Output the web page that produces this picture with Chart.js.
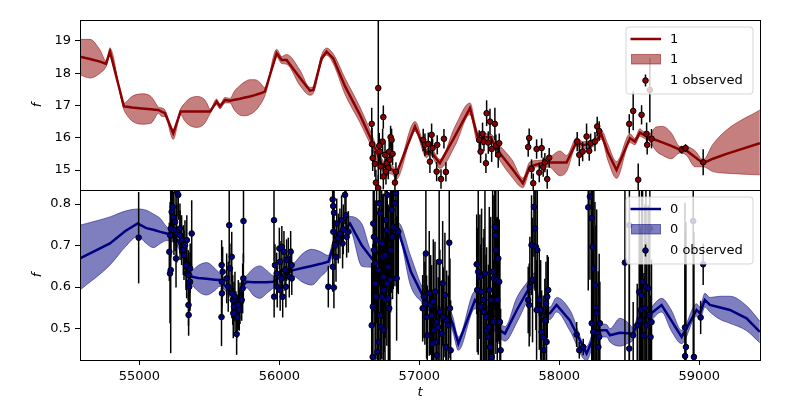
<!DOCTYPE html>
<html><head><meta charset="utf-8">
<script src="https://cdn.jsdelivr.net/npm/chart.js@4.4.1/dist/chart.umd.min.js"></script>
<style>
html,body{margin:0;padding:0;background:#fff;}
#wrap{position:relative;width:800px;height:400px;background:#fff;}
canvas{position:absolute;left:0;top:0;}
</style></head><body>
<div id="wrap"><canvas id="c0" width="800" height="400"></canvas><canvas id="c1" width="800" height="400"></canvas></div>
<script>
// ---------- shared axis ----------
const xMin = 54576, xMax = 59434;
const xTicks = [55000, 56000, 57000, 58000, 59000];

// ---------- series "1" (top panel) ----------
const yTicks1 = [15, 16, 17, 18, 19];
const tBand1 = [54576,54647,54719,54762,54790,54890,54915,54947,55017,55083,55110,55135,55162,55183,55242,55295,55320,55347,55410,55462,55485,55505,55552,55576,55612,55647,55680,55719,55755,55790,55825,55860,55897,55981,56017,56052,56147,56219,56243,56302,56338,56385,56469,56576,56647,56740,56812,56833,56969,57052,57076,57147,57255,57362,57419,57505,57576,57662,57740,57790,57862,57933,58005,58052,58124,58169,58240,58302,58347,58409,58505,58540,58576,58598,58647,58690,58740,58800,58862,58910,58969,59028,59098,59195,59433];
const mean1 = [18.51,18.44,18.36,18.29,18.67,16.97,16.96,16.94,16.91,16.88,16.87,16.86,16.80,16.76,16.14,16.81,16.81,16.81,16.81,16.81,16.81,16.81,17.12,16.97,17.17,17.15,17.18,17.21,17.25,17.28,17.32,17.37,17.43,18.62,18.41,18.41,17.86,17.46,17.48,18.46,18.67,18.46,17.60,16.71,16.04,15.11,15.00,14.85,16.35,15.52,15.60,15.21,16.05,16.92,15.99,16.03,15.52,15.05,14.59,15.11,15.20,15.23,15.23,15.23,15.88,15.77,15.83,16.09,15.55,15.00,15.99,15.88,16.16,16.10,15.99,15.93,15.85,15.75,15.63,15.60,15.40,15.21,15.35,15.50,15.83];
const hi1 = [19.05,19.05,18.72,18.38,18.77,17.07,17.15,17.28,17.36,17.28,17.12,16.95,16.92,16.86,16.25,16.90,17.05,17.18,17.28,17.20,17.05,16.88,17.20,17.05,17.25,17.22,17.45,17.62,17.74,17.80,17.80,17.72,17.55,18.74,18.52,18.58,18.10,17.56,17.58,18.57,18.78,18.60,17.85,16.95,16.25,15.30,15.12,15.00,16.50,15.65,15.72,15.33,16.35,17.08,16.15,16.12,15.75,15.32,14.75,15.25,15.30,15.40,15.59,15.45,16.00,15.88,15.95,16.22,15.80,15.26,16.12,15.98,16.28,16.20,16.12,16.33,16.35,16.15,15.73,15.72,15.60,15.32,15.80,16.24,16.86];
const lo1 = [17.95,17.85,18.00,18.20,18.55,16.87,16.68,16.52,16.42,16.45,16.60,16.76,16.66,16.66,15.95,16.72,16.55,16.42,16.32,16.42,16.58,16.74,17.02,16.90,17.08,17.08,16.85,16.70,16.68,16.72,16.82,17.00,17.30,18.50,18.30,18.28,17.62,17.32,17.38,18.35,18.56,18.30,17.35,16.47,15.83,14.95,14.85,14.70,16.20,15.38,15.48,15.05,15.75,16.72,15.85,15.92,15.30,14.78,14.45,14.98,15.10,15.08,14.82,14.95,15.75,15.65,15.72,15.95,15.30,14.74,15.85,15.78,16.05,16.00,15.88,15.60,15.45,15.35,15.53,15.45,15.10,15.10,14.95,14.90,14.85];
const obsT1 = [56660,56707,56743,56662,56667,56683,56714,56719,56738,56690,56707,56724,56743,56755,56767,56778,56785,56795,56802,56809,56790,56762,56826,56833,
  57028,57040,57064,57088,57095,57076,57124,57128,57155,57176,57190,
  57428,57438,57452,57462,57481,57476,57493,57505,57517,57540,57547,57564,57571,
  57778,57785,57802,57814,57838,57857,57874,57885,57897,57914,57928,
  58128,58143,58167,58195,58214,58224,58255,58271,58285,
  58500,58528,58564,58588,58647,58624,58628,58659,
  58874,58902,59028];
const obsF1 = [16.43,17.54,16.64,15.80,15.37,15.19,15.75,15.57,15.88,14.61,14.44,15.11,14.80,15.47,15.21,15.06,15.57,16.02,15.93,15.50,15.32,14.95,14.61,14.94,
  15.93,15.78,15.81,16.09,15.68,15.26,14.95,15.78,14.72,15.97,14.94,
  15.93,15.57,16.12,15.88,16.76,15.21,15.85,16.50,15.65,16.43,15.75,15.47,15.83,
  15.71,15.99,15.03,14.59,15.65,14.92,15.68,15.09,15.23,14.72,15.38,
  15.88,15.47,15.57,16.04,15.59,15.83,15.88,16.35,16.21,
  16.43,16.83,14.70,16.71,17.48,16.12,15.78,15.97,
  15.63,15.68,15.24];
const obsE1 = [0.5,3.2,0.36,0.5,0.4,0.4,0.4,0.4,0.4,0.4,0.4,0.4,0.4,0.4,0.4,0.35,0.35,0.35,0.35,0.35,0.35,0.4,0.35,0.3,
  0.35,0.35,0.35,0.35,0.3,0.35,0.3,0.3,0.3,0.3,0.3,
  0.3,0.35,0.35,0.3,0.4,0.3,0.35,0.4,0.4,0.5,0.35,0.4,0.3,
  0.3,0.3,0.3,0.3,0.3,0.3,0.3,0.3,0.3,0.3,0.3,
  0.3,0.35,0.3,0.4,0.3,0.3,0.3,0.3,0.3,
  0.3,0.6,0.5,0.3,1.0,0.35,0.3,0.3,
  0.12,0.12,0.4];

// ---------- series "0" (bottom panel) ----------
const yTicks0 = [0.5, 0.6, 0.7, 0.8];
const tBand0 = [54576,54790,54900,54988,55050,55100,55150,55195,55276,55333,55374,55420,55481,55540,55576,55647,55700,55743,55767,55815,55862,55910,55957,56026,56100,56165,56231,56295,56350,56385,56433,56505,56590,56660,56755,56850,56940,57028,57147,57219,57240,57279,57398,57469,57576,57612,57697,57790,57826,57862,57933,57981,58076,58195,58267,58338,58362,58433,58490,58528,58576,58612,58731,58800,58874,58981,59005,59040,59076,59150,59219,59338,59433];
const mean0 = [0.669,0.705,0.735,0.753,0.742,0.738,0.733,0.729,0.712,0.665,0.625,0.622,0.620,0.618,0.617,0.590,0.565,0.605,0.613,0.612,0.612,0.612,0.613,0.630,0.641,0.646,0.651,0.656,0.661,0.697,0.720,0.753,0.700,0.669,0.700,0.737,0.637,0.577,0.535,0.528,0.510,0.464,0.569,0.545,0.496,0.488,0.545,0.601,0.617,0.537,0.537,0.557,0.520,0.440,0.496,0.496,0.484,0.490,0.489,0.488,0.528,0.525,0.557,0.520,0.480,0.545,0.537,0.569,0.557,0.551,0.545,0.525,0.492];
const hi0 = [0.749,0.769,0.783,0.788,0.785,0.776,0.765,0.745,0.728,0.680,0.640,0.652,0.659,0.645,0.632,0.605,0.580,0.620,0.628,0.645,0.651,0.640,0.628,0.645,0.656,0.680,0.691,0.685,0.676,0.712,0.735,0.770,0.752,0.690,0.718,0.755,0.673,0.595,0.552,0.545,0.528,0.480,0.590,0.562,0.515,0.505,0.575,0.620,0.635,0.552,0.552,0.575,0.545,0.457,0.512,0.510,0.500,0.525,0.515,0.503,0.543,0.540,0.573,0.545,0.496,0.560,0.552,0.585,0.575,0.578,0.578,0.555,0.518];
const lo0 = [0.593,0.653,0.697,0.722,0.705,0.695,0.705,0.712,0.696,0.650,0.610,0.590,0.581,0.592,0.602,0.575,0.550,0.590,0.598,0.580,0.573,0.585,0.598,0.615,0.626,0.612,0.605,0.625,0.646,0.682,0.705,0.735,0.650,0.648,0.682,0.720,0.601,0.560,0.518,0.510,0.492,0.448,0.548,0.528,0.478,0.470,0.515,0.580,0.600,0.522,0.522,0.540,0.495,0.423,0.480,0.480,0.468,0.458,0.465,0.473,0.513,0.510,0.540,0.495,0.464,0.530,0.522,0.552,0.540,0.522,0.513,0.495,0.466];
const obsT0 = [54995,
  55214,55219,55224,55220,55225,55231,55238,55242,55255,55267,55262,55278,55268,55290,55302,55314,55319,55333,55338,55350,55362,55351,55352,55374,55339,55326,55291,55247,55357,55363,
  55588,55595,55589,55590,55587,55642,55660,55647,55624,55635,55661,55667,55676,55690,55700,55695,55714,55719,55731,55738,55743,55744,55671,55683,55707,
  55962,55969,55963,55981,55985,56000,56005,56017,56024,56033,56040,56047,56064,56071,56081,56088,56089,56006,56052,56018,
  56350,56390,56381,56385,56391,56386,56397,56382,56410,56421,56433,56445,56452,56469,56476,56481,56457,56405,56493,
  56660,56667,56671,56676,56677,56683,56684,56690,56700,56707,56714,56719,56724,56720,56731,56738,56743,56748,56755,56762,56767,56771,56778,56785,56790,56795,56802,56809,56814,56826,56833,56838,56842,56850,56695,56732,56756,56779,56744,56768,56708,56668,
  57024,57033,57047,57040,57052,57057,57071,57081,57088,57100,57112,57105,57119,57124,57135,57142,57147,57159,57167,57171,57183,57190,57195,57207,57214,57219,57224,57125,57095,
  57410,57414,57421,57433,57438,57445,57457,57462,57469,57476,57481,57493,57500,57505,57510,57517,57524,57528,57533,57540,57541,57547,57552,57557,57564,57571,57576,57581,57494,
  57778,57785,57790,57802,57809,57819,57826,57833,57843,57857,57867,57874,57885,57890,57897,57909,57914,57921,57905,57838,
  58124,58143,58171,58207,58231,58238,58247,58255,58262,58267,58232,58243,58278,58279,58290,58219,58285,
  58469,58500,58528,58557,58571,58581,58588,58595,58605,58619,58624,58635,58643,58652,58659,58576,58612,58501,58647,
  58898,58905,58899,58962,59010,58957,59028];
const obsF0 = [0.719,
  0.685,0.633,0.641,0.725,0.741,0.781,0.793,0.769,0.757,0.729,0.669,0.822,0.830,0.741,0.713,0.689,0.677,0.653,0.633,0.629,0.613,0.557,0.533,0.729,0.713,0.701,0.725,0.737,0.601,0.645,
  0.653,0.637,0.613,0.585,0.528,0.749,0.673,0.645,0.621,0.601,0.585,0.569,0.553,0.540,0.528,0.487,0.545,0.561,0.569,0.597,0.621,0.759,0.537,0.577,0.557,
  0.761,0.653,0.577,0.633,0.601,0.693,0.661,0.621,0.577,0.685,0.641,0.601,0.669,0.625,0.685,0.653,0.621,0.593,0.665,0.697,
  0.601,0.599,0.811,0.795,0.779,0.733,0.701,0.649,0.753,0.717,0.729,0.761,0.705,0.822,0.773,0.721,0.739,0.673,0.733,
  0.508,0.432,0.753,0.721,0.689,0.657,0.609,0.577,0.444,0.641,0.802,0.533,0.504,0.778,0.705,0.673,0.625,0.593,0.569,0.761,0.737,0.822,0.649,0.549,0.617,0.689,0.786,0.721,0.745,0.802,0.826,0.621,0.737,0.733,0.713,0.577,0.677,0.573,0.496,0.609,0.468,0.553,
  0.549,0.577,0.681,0.561,0.528,0.484,0.585,0.557,0.533,0.565,0.589,0.496,0.468,0.516,0.504,0.661,0.540,0.488,0.609,0.528,0.581,0.456,0.520,0.508,0.707,0.549,0.448,0.436,0.464,
  0.655,0.593,0.637,0.625,0.553,0.589,0.569,0.540,0.633,0.528,0.496,0.480,0.593,0.456,0.569,0.432,0.637,0.516,0.621,0.745,0.725,0.689,0.617,0.569,0.669,0.613,0.516,0.448,0.504,
  0.569,0.557,0.601,0.701,0.617,0.793,0.741,0.697,0.689,0.569,0.545,0.492,0.480,0.448,0.520,0.468,0.577,0.593,0.561,0.545,
  0.486,0.448,0.456,0.792,0.766,0.697,0.645,0.605,0.549,0.537,0.513,0.492,0.488,0.456,0.513,0.818,0.480,
  0.659,0.452,0.484,0.508,0.589,0.545,0.581,0.613,0.484,0.601,0.508,0.597,0.533,0.480,0.516,0.520,0.549,0.749,0.741,
  0.503,0.456,0.434,0.432,0.527,0.759,0.655];
const obsE0 = [0.11,
  0.07,0.12,0.2,0.08,0.07,0.06,0.06,0.06,0.07,0.07,0.07,0.06,0.06,0.06,0.06,0.06,0.06,0.06,0.06,0.06,0.07,0.05,0.05,0.08,0.06,0.06,0.06,0.06,0.06,0.06,
  0.06,0.06,0.06,0.06,0.07,0.09,0.06,0.06,0.06,0.06,0.06,0.06,0.06,0.05,0.05,0.05,0.05,0.05,0.05,0.06,0.06,0.1,0.06,0.06,0.06,
  0.1,0.05,0.05,0.05,0.05,0.05,0.05,0.05,0.05,0.05,0.05,0.05,0.05,0.05,0.05,0.04,0.04,0.05,0.05,0.05,
  0.05,0.05,0.07,0.06,0.06,0.06,0.06,0.06,0.06,0.06,0.06,0.06,0.06,0.07,0.06,0.05,0.06,0.06,0.05,
  0.15,0.2,0.2,0.15,0.15,0.15,0.2,0.15,0.2,0.15,0.2,0.15,0.2,0.15,0.15,0.15,0.2,0.15,0.15,0.2,0.15,0.2,0.15,0.15,0.2,0.15,0.2,0.15,0.15,0.2,0.2,0.15,0.15,0.15,0.2,0.15,0.2,0.15,0.2,0.15,0.2,0.15,
  0.08,0.1,0.15,0.1,0.1,0.12,0.15,0.12,0.12,0.15,0.12,0.1,0.12,0.15,0.12,0.2,0.15,0.12,0.15,0.12,0.15,0.12,0.12,0.12,0.2,0.12,0.12,0.1,0.12,
  0.12,0.15,0.2,0.15,0.15,0.2,0.15,0.2,0.25,0.15,0.2,0.15,0.2,0.15,0.2,0.15,0.25,0.15,0.2,0.2,0.2,0.25,0.15,0.2,0.2,0.15,0.15,0.1,0.15,
  0.08,0.1,0.12,0.12,0.15,0.12,0.15,0.2,0.15,0.12,0.12,0.1,0.1,0.08,0.1,0.08,0.1,0.08,0.1,0.12,
  0.03,0.02,0.02,0.2,0.25,0.3,0.25,0.2,0.2,0.25,0.3,0.25,0.15,0.15,0.1,0.2,0.2,
  0.3,0.3,0.08,0.1,0.3,0.2,0.25,0.3,0.15,0.3,0.2,0.2,0.15,0.1,0.15,0.2,0.25,0.35,0.35,
  0.3,0.3,0.3,0.3,0.04,0.35,0.05];

const legend1 = ['1', '1', '1 observed'];
const legend0 = ['0', '0', '0 observed'];

// ---------- plugins ----------
Chart.defaults.font.family = "'DejaVu Sans', sans-serif";
Chart.defaults.font.size = 13;
Chart.defaults.color = '#000';

const errorBars = {
  id: 'errorBars',
  beforeDatasetDraw(chart, args) {
    const ds = chart.data.datasets[args.index];
    if (!ds.errors) return;
    const ctx = chart.ctx, a = chart.chartArea;
    const xs = chart.scales.x, ys = chart.scales.y;
    ctx.save();
    ctx.beginPath(); ctx.rect(a.left, a.top, a.right - a.left, a.bottom - a.top); ctx.clip();
    ctx.strokeStyle = '#000'; ctx.lineWidth = 1.5;
    ds.data.forEach((p, i) => {
      const e = ds.errors[i];
      const x = xs.getPixelForValue(p.x);
      ctx.beginPath();
      ctx.moveTo(x, ys.getPixelForValue(p.y - e));
      ctx.lineTo(x, ys.getPixelForValue(p.y + e));
      ctx.stroke();
    });
    ctx.restore();
  }
};

const frame = {
  id: 'frame',
  afterDatasetsDraw(chart) {
    const ctx = chart.ctx, a = chart.chartArea;
    ctx.save();
    ctx.strokeStyle = '#000'; ctx.lineWidth = 1;
    ctx.strokeRect(Math.round(a.left) + 0.5, Math.round(a.top) + 0.5, Math.round(a.right - a.left), Math.round(a.bottom - a.top));
    ctx.restore();
  }
};

const mplLegend = {
  id: 'mplLegend',
  afterDraw(chart, args, o) {
    if (!o || !o.labels) return;
    const ctx = chart.ctx, a = chart.chartArea;
    const w = 127, h = 67;
    const x = a.right - 7 - w, y = a.top + 7;
    ctx.save();
    const r = 3;
    ctx.beginPath();
    ctx.moveTo(x + r, y); ctx.lineTo(x + w - r, y); ctx.arcTo(x + w, y, x + w, y + r, r);
    ctx.lineTo(x + w, y + h - r); ctx.arcTo(x + w, y + h, x + w - r, y + h, r);
    ctx.lineTo(x + r, y + h); ctx.arcTo(x, y + h, x, y + h - r, r);
    ctx.lineTo(x, y + r); ctx.arcTo(x, y, x + r, y, r); ctx.closePath();
    ctx.fillStyle = 'rgba(255,255,255,0.8)'; ctx.fill();
    ctx.strokeStyle = 'rgba(204,204,204,0.8)'; ctx.lineWidth = 1; ctx.stroke();
    // line handle
    ctx.strokeStyle = o.color; ctx.lineWidth = 2.5;
    ctx.beginPath(); ctx.moveTo(x + 4.5, y + 12); ctx.lineTo(x + 35, y + 12); ctx.stroke();
    // patch handle
    ctx.fillStyle = o.band; ctx.fillRect(x + 5.5, y + 27.5, 29, 9.5);
    ctx.strokeStyle = o.band; ctx.lineWidth = 1; ctx.strokeRect(x + 5.5, y + 27.5, 29, 9.5);
    // errorbar handle
    ctx.strokeStyle = '#000'; ctx.lineWidth = 1.5;
    ctx.beginPath(); ctx.moveTo(x + 19.5, y + 47.5); ctx.lineTo(x + 19.5, y + 59.5); ctx.stroke();
    ctx.beginPath(); ctx.arc(x + 19.5, y + 53.5, 2.8, 0, Math.PI * 2);
    ctx.fillStyle = o.color; ctx.fill(); ctx.strokeStyle = '#000'; ctx.lineWidth = 1; ctx.stroke();
    // texts
    ctx.fillStyle = '#000'; ctx.font = "13px 'DejaVu Sans', sans-serif"; ctx.textBaseline = 'middle'; ctx.textAlign = 'left';
    ctx.fillText(o.labels[0], x + 44, y + 12.5);
    ctx.fillText(o.labels[1], x + 44, y + 32.5);
    ctx.fillText(o.labels[2], x + 44, y + 53.5);
    ctx.restore();
  }
};

function pts(ts, vs) { return ts.map((t, i) => ({ x: t, y: vs[i] })); }

function build(id, o) {
  return new Chart(document.getElementById(id), {
    type: 'line',
    data: {
      datasets: [
        { label: 'obs', data: pts(o.obsT, o.obsF), errors: o.obsE, showLine: false,
          pointRadius: 2.8, pointBackgroundColor: o.color, pointBorderColor: '#000', pointBorderWidth: 1, order: 1 },
        { label: 'mean', data: pts(o.tBand, o.mean), borderColor: o.color, borderWidth: 2.5, pointRadius: 0, tension: 0, fill: false, order: 2 },
        { label: 'hi', data: pts(o.tBand, o.hi), borderColor: o.band, borderWidth: 1, pointRadius: 0,
          cubicInterpolationMode: 'monotone', fill: '+1', backgroundColor: o.band, order: 3 },
        { label: 'lo', data: pts(o.tBand, o.lo), borderColor: o.band, borderWidth: 1, pointRadius: 0,
          cubicInterpolationMode: 'monotone', fill: false, order: 4 }
      ]
    },
    options: {
      responsive: false, animation: false, events: [],
      layout: { padding: o.padding },
      plugins: { legend: { display: false }, tooltip: { enabled: false },
        mplLegend: { labels: o.legend, color: o.color, band: o.band } },
      scales: {
        x: { type: 'linear', min: xMin, max: xMax, display: o.showX,
          afterBuildTicks: s => { s.ticks = xTicks.map(v => ({ value: v })); },
          afterFit: s => { if (o.showX) s.height = 40; else s.height = 0; },
          grid: { drawOnChartArea: false, drawTicks: true, tickLength: 5, color: '#000' },
          border: { display: true, color: '#000' },
          ticks: { padding: 4, maxRotation: 0, callback: v => String(v) },
          title: { display: true, text: 't', font: { style: 'italic', size: 13 }, padding: { top: 0, bottom: 0 } } },
        y: { type: 'linear', min: o.yMin, max: o.yMax,
          afterBuildTicks: s => { s.ticks = o.yTicks.map(v => ({ value: v })); },
          afterFit: s => { s.width = 54; },
          grid: { drawOnChartArea: false, drawTicks: true, tickLength: 5, color: '#000' },
          border: { display: true, color: '#000' },
          ticks: { padding: 4, callback: v => o.fmt(v) },
          title: { display: true, text: 'f', font: { style: 'italic', size: 13 }, padding: { top: 4, bottom: 4 } } }
      }
    },
    plugins: [errorBars, frame, mplLegend]
  });
}

build('c1', { obsT: obsT1, obsF: obsF1, obsE: obsE1, tBand: tBand1, mean: mean1, hi: hi1, lo: lo1,
  color: '#8B0000', band: 'rgba(139,0,0,0.5)', legend: legend1, showX: false,
  yMin: 14.38, yMax: 19.65, yTicks: yTicks1, fmt: v => String(v),
  padding: { left: 26, right: 40, top: 20, bottom: 210 } });

build('c0', { obsT: obsT0, obsF: obsF0, obsE: obsE0, tBand: tBand0, mean: mean0, hi: hi0, lo: lo0,
  color: '#000080', band: 'rgba(0,0,128,0.5)', legend: legend0, showX: true,
  yMin: 0.4246, yMax: 0.8337, yTicks: yTicks0, fmt: v => v.toFixed(1),
  padding: { left: 26, right: 40, top: 190, bottom: 0 } });
</script>
</body></html>
